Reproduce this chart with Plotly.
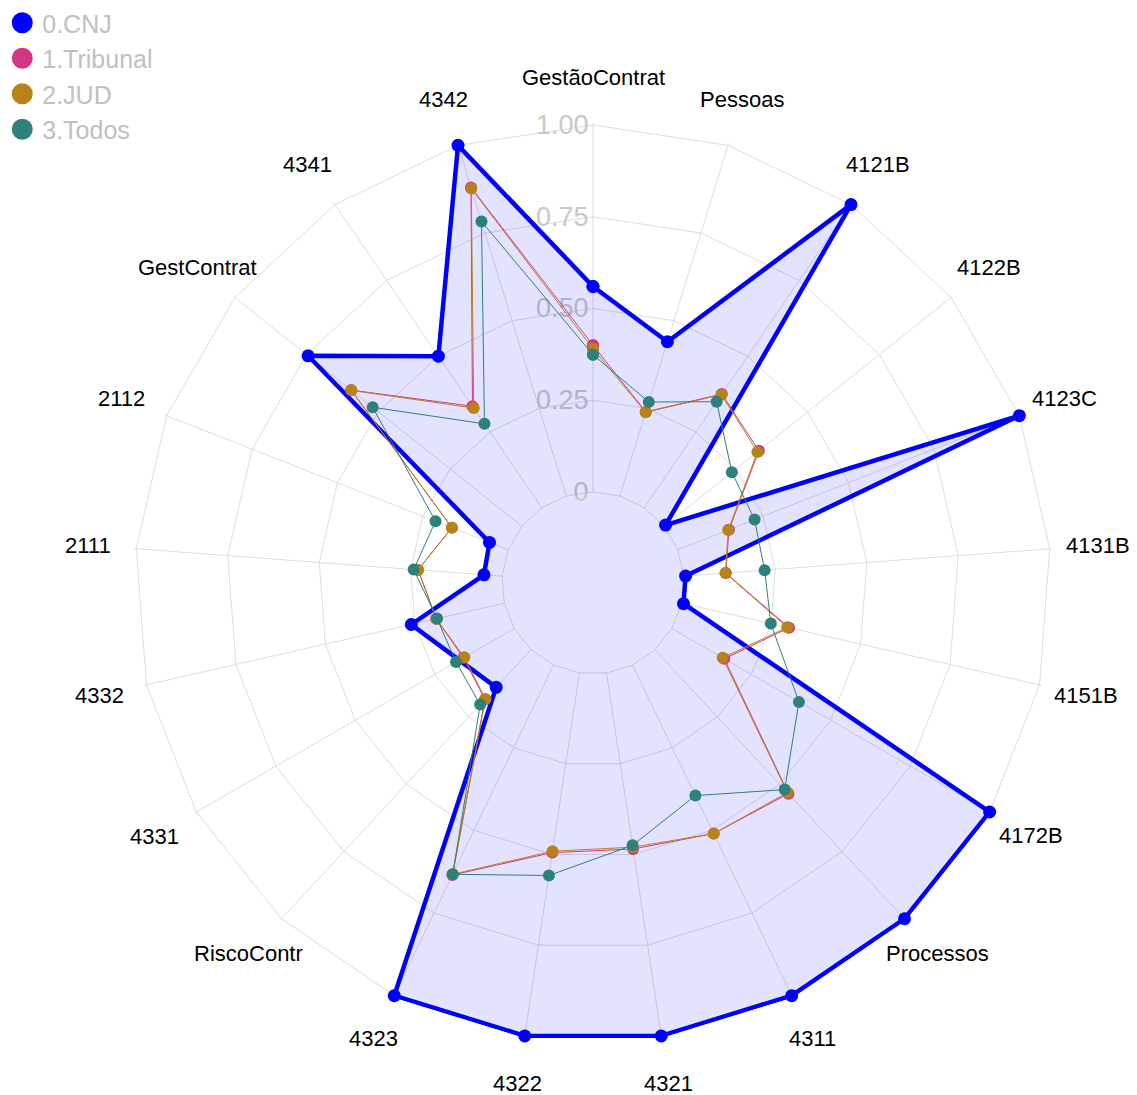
import math
import plotly.graph_objects as go

categories = ["GestãoContrat", "Pessoas", "4121B", "4122B", "4123C", "4131B", "4151B",
              "4172B", "Processos", "4311", "4321", "4322", "4323", "RiscoContr",
              "4331", "4332", "2111", "2112", "GestContrat", "4341", "4342"]

cnj = [0.56, 0.44, 1.0, 0.005, 1.0, 0.005, 0.005, 1.0, 1.0, 1.0, 1.0, 1.0, 1.0, 0.14,
       None, 0.26, 0.05, 0.055, 0.745, 0.50, 1.0]
tribunal = [0.40, 0.24, 0.375, 0.33, 0.15, 0.115, 0.30, 0.165, 0.535, 0.51, 0.485, 0.495,
            0.635, 0.185, 0.16, 0.19, 0.23, 0.165, 0.595, 0.335, 0.88]
jud = [0.39, 0.239, 0.373, 0.325, 0.148, 0.114, 0.295, 0.16, 0.531, 0.51, 0.48, 0.491,
       0.633, 0.183, 0.157, 0.19, 0.23, 0.165, 0.594, 0.329, 0.877]
todos = [0.374, 0.268, 0.35, 0.236, 0.225, 0.221, 0.249, 0.40, 0.52, 0.395, 0.475, 0.558,
         0.633, 0.204, 0.183, 0.188, 0.242, 0.213, 0.52, 0.277, 0.783]

series_names = ["0.CNJ", "1.Tribunal", "2.JUD", "3.Todos"]
series_colors = ["#0000FF", "#D33682", "#B8821A", "#2E807A"]
cnj_fill = "rgba(0,0,255,0.11)"

radial_ticks = [0, 0.25, 0.5, 0.75, 1.0]
radial_ticktext = ["0", "0.25", "0.50", "0.75", "1.00"]


def closed(vals):
    return vals + [vals[0]], categories + [categories[0]]


fig = go.Figure()

r, th = closed(cnj)
fig.add_trace(go.Scatterpolar(
    r=r, theta=th, mode="lines+markers", connectgaps=True, cliponaxis=False,
    fill="toself", fillcolor=cnj_fill,
    line=dict(color=series_colors[0], width=4.5),
    marker=dict(color=series_colors[0], size=13),
    showlegend=False, hoverinfo="skip"))

for vals, col in zip([tribunal, jud, todos], series_colors[1:]):
    r, th = closed(vals)
    fig.add_trace(go.Scatterpolar(
        r=r, theta=th, mode="lines+markers", cliponaxis=False,
        line=dict(color=col, width=1),
        marker=dict(color=col, size=12),
        showlegend=False, hoverinfo="skip"))

# legend-only entries (circle symbols)
for name, col in zip(series_names, series_colors):
    fig.add_trace(go.Scatterpolar(
        r=[None], theta=[categories[0]], mode="markers", name=name,
        marker=dict(color=col, size=30, line=dict(color=col, width=5)),
        showlegend=True))

W, H = 1137, 1095
cx, cy = 593, 583          # centre of the radar in pixels
R0, R1 = 91, 458           # pixel radius of r=0 and r=1
rmin, rmax = -0.003, 1.006  # tiny headroom so the r=0 ring shows and r=1 line is not clipped
Rin = R0 + rmin * (R1 - R0)
Rout = R1 + (rmax - 1) * (R1 - R0)
hole = Rin / Rout
label_radius = 506         # category labels are centred on this circle

# category labels, centred on a circle outside the grid (same angles as the axis)
n = len(categories)
annotations = []
for k, name in enumerate(categories):
    a = 2 * math.pi * k / n
    annotations.append(dict(
        text=name, showarrow=False, xref="paper", yref="paper",
        x=(cx + label_radius * math.sin(a)) / W,
        y=(H - cy + label_radius * math.cos(a)) / H,
        xanchor="center", yanchor="middle",
        font=dict(size=22, color="black")))

fig.update_layout(
    width=W, height=H,
    margin=dict(l=0, r=0, t=0, b=0),
    paper_bgcolor="white",
    font=dict(family="Liberation Sans, Arial, sans-serif"),
    legend=dict(x=0.002, y=1, xanchor="left", yanchor="top",
                font=dict(size=25, color="#c0c0c0"),
                bgcolor="rgba(0,0,0,0)", tracegroupgap=0, itemsizing="trace"),
    annotations=annotations,
    # the CNJ area also covers the centre disc in the reference
    shapes=[dict(type="circle", xref="paper", yref="paper", layer="below",
                 x0=(cx - Rin) / W, x1=(cx + Rin) / W,
                 y0=(H - cy - Rin) / H, y1=(H - cy + Rin) / H,
                 fillcolor=cnj_fill, line=dict(width=0))],
    polar=dict(
        domain=dict(x=[(cx - Rout) / W, (cx + Rout) / W],
                    y=[(H - cy - Rout) / H, (H - cy + Rout) / H]),
        hole=hole,
        bgcolor="white",
        gridshape="linear",
        radialaxis=dict(range=[rmin, rmax], tickvals=radial_ticks, ticktext=radial_ticktext,
                        angle=90, tickangle=90, side="counterclockwise",
                        showline=False, ticks="",
                        gridcolor="#dddddd", layer="below traces",
                        tickfont=dict(size=27, color="#c8c8c8")),
        angularaxis=dict(type="category", categoryorder="array", categoryarray=categories,
                         rotation=90, direction="clockwise",
                         gridcolor="#dddddd", showline=False, showticklabels=False,
                         layer="below traces", ticks=""),
    ),
)

fig.write_html("out.html", post_script="document.body.style.margin='0';",
               config={"displayModeBar": False})
